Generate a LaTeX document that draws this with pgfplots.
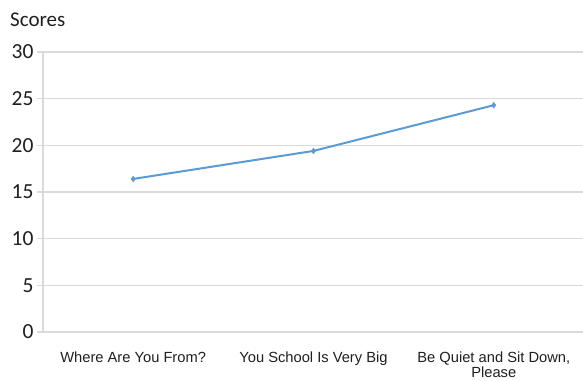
\documentclass[border=0pt]{standalone}
\usepackage{pgfplots}
\pgfplotsset{compat=1.18}
\usepackage{fontspec}
\setmainfont{Carlito}
\newfontfamily\labelfont{Liberation Sans}

\definecolor{seriesblue}{HTML}{5B9BD5}
\definecolor{gridgray}{HTML}{D9D9D9}
\definecolor{textdark}{HTML}{1F1F1F}

\begin{document}
\begin{tikzpicture}
% the page frame; the grid runs on to the right edge and is cut there
\clip (-43pt,-48pt) rectangle (540pt,332pt);
\begin{axis}[
  at={(0pt,0pt)}, anchor=south west,
  scale only axis, width=546pt, height=280pt,
  xmin=-0.5, xmax=2.528, ymin=0, ymax=30,
  ytick={0,5,...,30},
  xtick={0,1,2},
  xticklabels={Where Are You From?,You School Is Very Big,{Be Quiet and Sit Down,\\Please}},
  x tick label style={font=\labelfont\fontsize{14.7}{15}\selectfont, text=textdark, align=center, anchor=north, yshift=-10pt},
  y tick label style={font=\fontsize{21.5}{24}\selectfont, text=textdark},
  /pgf/number format/assume math mode=true,
  axis x line*=bottom, axis y line*=left,
  axis line style={draw=gridgray, line width=1.4pt, -},
  ymajorgrids, grid style={draw=gridgray, line width=1.4pt},
  tick align=outside,
  major tick length=6pt,
  ytick style={draw=gridgray, line width=1.4pt},
  xtick style={draw=none},
  extra x ticks={0.5,1.5},
  extra x tick labels={},
  extra x tick style={grid=none, major tick length=7pt, tick style={draw=gridgray, line width=1.4pt}},
  clip=false,
]
\addplot[color=seriesblue, line width=2pt, mark=diamond*, mark size=2.8pt,
  mark options={fill=seriesblue, draw=seriesblue, line width=0.5pt}]
  coordinates {(0,16.4) (1,19.4) (2,24.3)};
\end{axis}
\node[anchor=base west, inner sep=0pt, font=\fontsize{21}{24}\selectfont, text=textdark] at (-33pt,305pt) {Scores};
\end{tikzpicture}
\end{document}
